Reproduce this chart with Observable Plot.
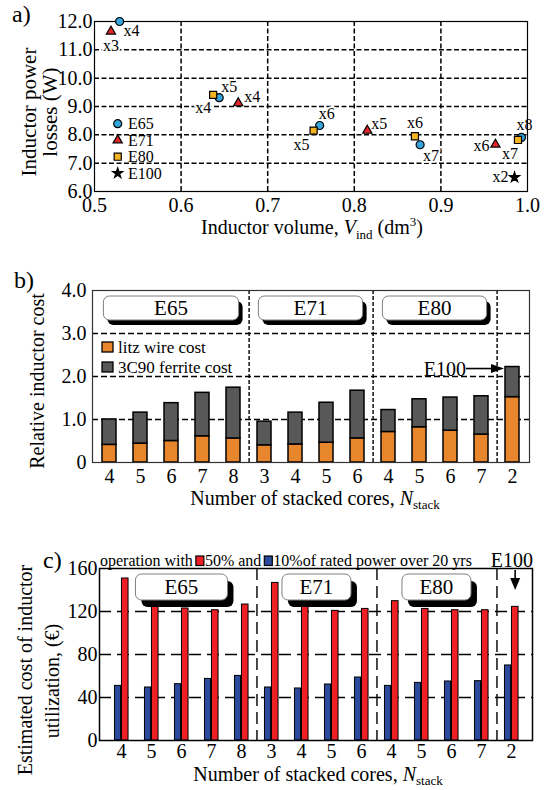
<!DOCTYPE html>
<html>
<head>
<meta charset="utf-8">
<script src="https://cdn.jsdelivr.net/npm/d3@7"></script>
<script src="https://cdn.jsdelivr.net/npm/@observablehq/plot@0.6"></script>
<style>
  html, body { margin: 0; padding: 0; background: #fff; overflow: hidden; }
  #page { position: relative; width: 549px; height: 790px; overflow: hidden; background: #fff; }
  .panel { position: absolute; left: 0; }
  .panel svg { display: block; }
  .panel svg text { font-family: "Liberation Serif", "Times New Roman", Times, serif !important; }
</style>
</head>
<body>
<div id="page"></div>
<script>
const FONT = '"Liberation Serif", "Times New Roman", Times, serif';

// ---------------- Panel a data ----------------
const coreSeries = ["E65", "E71", "E80", "E100"];
const seriesColors = ["#36A5DD", "#E4262B", "#F3B322", "#000000"];
const seriesSymbols = ["circle", "triangle", "square", "star"];
const seriesRadius = [4.0, 3.4, 4.0, 3.2];
const e65Volume = [0.529, 0.644, 0.760, 0.876, 0.993];
const e65Loss   = [12.0, 9.31, 8.33, 7.65, 7.91];
const e65Stack  = [4, 5, 6, 7, 8];
const e71Volume = [0.519, 0.666, 0.815, 0.963];
const e71Loss   = [11.65, 9.12, 8.15, 7.66];
const e71Stack  = [3, 4, 5, 6];
const e80Volume = [0.637, 0.753, 0.870, 0.989];
const e80Loss   = [9.41, 8.15, 7.95, 7.82];
const e80Stack  = [4, 5, 6, 7];
const e100Volume = [0.985];
const e100Loss   = [6.50];
const e100Stack  = [2];
const volumeTicks = [0.5, 0.6, 0.7, 0.8, 0.9, 1.0];
const lossTicks = [6, 7, 8, 9, 10, 11, 12];

// label placement style for panel a: [dx, dy, anchor]
const labelStyleA = {
  "E65-4": [4, 9, "start"], "E65-5": [2, -11, "start"], "E65-6": [7, -12, "middle"],
  "E65-7": [3, 11, "start"], "E65-8": [3, -13, "middle"],
  "E71-3": [0, 14, "middle"], "E71-4": [6, -6, "start"], "E71-5": [4, -7, "start"], "E71-6": [-6, 1, "end"],
  "E80-4": [-2, 13, "end"], "E80-5": [-4, 14, "end"], "E80-6": [0, -13, "middle"], "E80-7": [0, 14, "end"],
  "E100-2": [-6, 0, "end"]
};

// ---------------- Panel b / c data ----------------
const stackLabels = ["4","5","6","7","8","3","4","5","6","4","5","6","7","2"];
const coreOfBar  = ["E65","E65","E65","E65","E65","E71","E71","E71","E71","E80","E80","E80","E80","E100"];
const litzCost    = [0.41, 0.44, 0.50, 0.61, 0.56, 0.40, 0.42, 0.46, 0.56, 0.71, 0.82, 0.74, 0.65, 1.52];
const ferriteCost = [0.59, 0.72, 0.88, 1.01, 1.18, 0.55, 0.74, 0.93, 1.11, 0.51, 0.65, 0.77, 0.89, 0.70];
const costComponents = ["litz wire cost", "3C90 ferrite cost"];
const componentColors = ["#E8862E", "#585858"];
const relCostTicks = [0, 1, 2, 3, 4];

const cost50 = [150.7, 127.0, 122.8, 121.2, 126.5, 146.6, 124.9, 120.6, 122.4, 129.6, 122.4, 121.2, 121.2, 124.3];
const cost10 = [50.8, 49.3, 52.4, 57.3, 60.1, 49.3, 48.4, 52.1, 58.6, 50.8, 53.6, 54.9, 55.2, 69.8];
const operationLevels = ["50%", "10%"];
const operationColors = ["#EE2026", "#2B4A9C"];
const utilTicks = [0, 40, 80, 120, 160];
const boxedGroups = ["E65", "E71", "E80"];
const boxWidthC = [92, 69, 69];

// ---------------- helpers ----------------
const page = document.getElementById("page");
function mount(svg, top) {
  const div = document.createElement("div");
  div.className = "panel";
  div.style.top = top + "px";
  div.appendChild(svg);
  page.appendChild(div);
  const s = d3.select(svg);
  s.style("font-family", FONT);
  s.selectAll("text").style("font-family", FONT);
  return s;
}
function txt(g, x, y, s, o = {}) {
  const t = g.append("text").attr("x", x).attr("y", y)
    .style("font-family", FONT).attr("font-size", o.size || 20)
    .attr("fill", "black").attr("text-anchor", o.anchor || "start")
    .attr("dy", o.dy == null ? "0.35em" : o.dy);
  if (o.rotate) t.attr("transform", `rotate(-90 ${x} ${y})`);
  if (s != null) t.text(s);
  return t;
}
function arrowHead(g, x, y, dir, len, half) {
  let pts;
  if (dir === "right") pts = [[x, y], [x - len, y - half], [x - len, y + half]];
  else pts = [[x, y], [x - half, y - len], [x + half, y - len]];
  g.append("path").attr("d", "M" + pts.map(p => p.join(",")).join("L") + "Z").attr("fill", "black");
}
function roundedBox(g, x, y, w, h, sx, sy) {
  g.append("rect").attr("x", x + sx).attr("y", y + sy).attr("width", w).attr("height", h)
    .attr("rx", 6).attr("fill", "black");
  g.append("rect").attr("x", x).attr("y", y).attr("width", w).attr("height", h)
    .attr("rx", 6).attr("fill", "white").attr("stroke", "#808080").attr("stroke-width", 1);
}
const symbolOf = {circle: d3.symbolCircle, triangle: d3.symbolTriangle, square: d3.symbolSquare, star: d3.symbolStar};

// ================= Panel a =================
const aPoints = [];
[[e65Volume, e65Loss, e65Stack, "E65"], [e71Volume, e71Loss, e71Stack, "E71"],
 [e80Volume, e80Loss, e80Stack, "E80"], [e100Volume, e100Loss, e100Stack, "E100"]]
  .forEach(([v, l, s, c]) => v.forEach((vi, i) => aPoints.push({core: c, volume: vi, loss: l[i], stack: s[i]})));

const aLabelMarks = aPoints.map(p => {
  const [dx, dy, anchor] = labelStyleA[p.core + "-" + p.stack];
  return Plot.text([p], {x: "volume", y: "loss", text: d => "x" + d.stack, dx, dy, textAnchor: anchor,
    fontSize: 16, fill: "black", stroke: "white", strokeWidth: 3.5, paintOrder: "stroke"});
});
const aDotMarks = coreSeries.map((c, i) =>
  Plot.dot(aPoints.filter(p => p.core === c), {x: "volume", y: "loss", symbol: "core", fill: "core",
    stroke: "black", strokeWidth: 1.2, r: seriesRadius[i]}));

const plotA = Plot.plot({
  width: 549, height: 250,
  marginTop: 21, marginBottom: 59, marginLeft: 94, marginRight: 22,
  style: {fontFamily: FONT, fontSize: "20px", color: "black", background: "transparent", overflow: "visible"},
  x: {domain: [0.5, 1.0], ticks: volumeTicks, tickFormat: d3.format(".1f"), tickSize: 0, tickPadding: 6, label: null},
  y: {domain: [6, 12], ticks: lossTicks, tickFormat: d3.format(".1f"), tickSize: 0, tickPadding: 2, label: null},
  color: {domain: coreSeries, range: seriesColors},
  symbol: {domain: coreSeries, range: seriesSymbols},
  marks: [
    Plot.ruleX(volumeTicks.slice(1, -1), {stroke: "black", strokeWidth: 1.5, strokeDasharray: "5,2.5"}),
    Plot.ruleY(lossTicks.slice(1, -1), {stroke: "black", strokeWidth: 1.5, strokeDasharray: "5,2.5"}),
    ...aLabelMarks,
    Plot.frame({stroke: "black", strokeWidth: 1.2}),
    ...aDotMarks
  ]
});
const sa = mount(plotA, 0);
// legend a
coreSeries.forEach((c, i) => {
  const y = 123.7 + i * 16.5;
  const r = seriesRadius[i];
  sa.append("path").attr("d", d3.symbol(symbolOf[seriesSymbols[i]], Math.PI * r * r)()).attr("transform", `translate(117.7,${y})`)
    .attr("fill", seriesColors[i]).attr("stroke", "black").attr("stroke-width", 1.2);
  txt(sa, 128, y, c, {size: 16});
});
txt(sa, 12, 22, "a)", {size: 24, dy: 0});
txt(sa, 29, 112, "Inductor power", {size: 21, anchor: "middle", rotate: true});
txt(sa, 50, 112, "losses (W)", {size: 21, anchor: "middle", rotate: true});
{
  const t = txt(sa, 312, 227, null, {size: 20, anchor: "middle"});
  t.append("tspan").text("Inductor volume, ");
  t.append("tspan").attr("font-style", "italic").text("V");
  t.append("tspan").attr("font-size", 13).attr("dy", 5).text("ind");
  t.append("tspan").attr("dy", -5).text(" (dm");
  t.append("tspan").attr("font-size", 13).attr("dy", -8).text("3");
  t.append("tspan").attr("dy", 8).text(")");
}

// ================= Panel b =================
const keys = stackLabels.map((s, i) => coreOfBar[i] + "-" + s);
const bData = keys.flatMap((k, i) => [
  {key: k, component: costComponents[0], value: litzCost[i]},
  {key: k, component: costComponents[1], value: ferriteCost[i]}
]);
const groupEnds = boxedGroups.map(g => keys[coreOfBar.lastIndexOf(g)]);
const mB = {top: 40, bottom: 58, left: 92, right: 20};
const stepB = (549 - mB.left - mB.right) / keys.length;
const plotB = Plot.plot({
  width: 549, height: 270,
  marginTop: mB.top, marginBottom: mB.bottom, marginLeft: mB.left, marginRight: mB.right,
  style: {fontFamily: FONT, fontSize: "20px", color: "black", background: "transparent", overflow: "visible"},
  x: {domain: keys, paddingInner: 0.55, paddingOuter: 0.275, tickSize: 0, tickPadding: 6,
      tickFormat: d => d.split("-")[1], label: null},
  y: {domain: [0, 4], ticks: relCostTicks, tickFormat: d => d === 0 ? "0" : d.toFixed(1), tickSize: 0, tickPadding: 6, label: null},
  color: {domain: costComponents, range: componentColors},
  marks: [
    Plot.ruleY(relCostTicks.slice(1, -1), {stroke: "black", strokeWidth: 1.4, strokeDasharray: "6,3"}),
    Plot.ruleX(groupEnds, {x: d => d, dx: stepB / 2, stroke: "black", strokeWidth: 1.4, strokeDasharray: "4,2"}),
    Plot.barY(bData, {x: "key", y: "value", fill: "component", stroke: "black", strokeWidth: 1.5}),
    Plot.frame({stroke: "#333", strokeWidth: 1.2})
  ]
});
const sb = mount(plotB, 250);
{
  const sx = plotB.scale("x"), sy = plotB.scale("y");
  const bw = sx.bandwidth, gap = (stepB - bw) / 2;
  boxedGroups.forEach(g => {
    const first = keys[coreOfBar.indexOf(g)], last = keys[coreOfBar.lastIndexOf(g)];
    const x0 = sx.apply(first) - gap + 10, x1 = sx.apply(last) + bw + gap - 10;
    roundedBox(sb, x0, mB.top + 6, x1 - x0, 24, 4, 5);
    txt(sb, (x0 + x1) / 2, mB.top + 18, g, {size: 21, anchor: "middle"});
  });
  // E100 arrow
  const iE = coreOfBar.indexOf("E100");
  const bx = sx.apply(keys[iE]) - 1, by = sy.apply(litzCost[iE] + ferriteCost[iE]) + 2;
  sb.append("line").attr("x1", bx - 38).attr("x2", bx - 10).attr("y1", by).attr("y2", by).attr("stroke", "black").attr("stroke-width", 1.6);
  arrowHead(sb, bx, by, "right", 13, 4.5);
  txt(sb, bx - 38, by, "E100", {size: 20, anchor: "end"});
  // legend b
  costComponents.forEach((c, i) => {
    sb.append("rect").attr("x", 102).attr("y", 92 + i * 20).attr("width", 11).attr("height", 10)
      .attr("fill", componentColors[i]).attr("stroke", "black").attr("stroke-width", 1.3);
    txt(sb, 118, 97 + i * 20, c, {size: 17});
  });
}
txt(sb, 14, 38, "b)", {size: 24, dy: 0});
txt(sb, 37, 131, "Relative inductor cost", {size: 20, anchor: "middle", rotate: true});
{
  const t = txt(sb, 315, 248, null, {size: 20, anchor: "middle"});
  t.append("tspan").text("Number of stacked cores, ");
  t.append("tspan").attr("font-style", "italic").text("N");
  t.append("tspan").attr("font-size", 13).attr("dy", 4).text("stack");
}

// ================= Panel c =================
const mC = {top: 48, bottom: 50, left: 99, right: 17};
const stepC = (549 - mC.left - mC.right) / keys.length;
const c50 = keys.map((k, i) => ({key: k, value: cost50[i]}));
const c10 = keys.map((k, i) => ({key: k, value: cost10[i]}));
const halfC = stepC / 2;
const plotC = Plot.plot({
  width: 549, height: 270,
  marginTop: mC.top, marginBottom: mC.bottom, marginLeft: mC.left, marginRight: mC.right,
  style: {fontFamily: FONT, fontSize: "20px", color: "black", background: "transparent", overflow: "visible"},
  x: {domain: keys, padding: 0, tickSize: 0, tickPadding: 3, tickFormat: d => d.split("-")[1], label: null},
  y: {domain: [0, 160], ticks: utilTicks, tickFormat: d3.format("d"), tickSize: 0, tickPadding: 2, label: null},
  marks: [
    Plot.ruleY(utilTicks.slice(1, -1), {stroke: "black", strokeWidth: 1.5, strokeDasharray: "12,6"}),
    Plot.ruleX(groupEnds, {x: d => d, dx: halfC, stroke: "black", strokeWidth: 1.4, strokeDasharray: "12,6"}),
    Plot.barY(c10, {x: "key", y: "value", fill: operationColors[1], stroke: "black", strokeWidth: 1,
      insetLeft: halfC - 7, insetRight: halfC}),
    Plot.barY(c50, {x: "key", y: "value", fill: operationColors[0], stroke: "black", strokeWidth: 1,
      insetLeft: halfC, insetRight: halfC - 7.5}),
    Plot.frame({stroke: "black", strokeWidth: 1.5})
  ]
});
const sc = mount(plotC, 520);
{
  const sx = plotC.scale("x");
  boxedGroups.forEach((g, gi) => {
    const first = keys[coreOfBar.indexOf(g)], last = keys[coreOfBar.lastIndexOf(g)];
    const cx = (sx.apply(first) + sx.apply(last) + stepC) / 2;
    const w = boxWidthC[gi];
    roundedBox(sc, cx - w / 2, mC.top + 6, w, 26, 6, 7);
    txt(sc, cx, mC.top + 19, g, {size: 21, anchor: "middle"});
  });
  // legend c
  let x = 100;
  const base = 46;
  const parts = [
    {t: "operation with"}, {sq: 0}, {t: "50% and"}, {sq: 1}, {t: "10%of rated power over 20 yrs"}
  ];
  parts.forEach(p => {
    if (p.t) {
      const t = txt(sc, x, base, p.t, {size: 16, dy: 0});
      x += t.node().getComputedTextLength() + 3;
    } else {
      sc.append("rect").attr("x", x).attr("y", base - 10).attr("width", 8).attr("height", 9.5)
        .attr("fill", operationColors[p.sq]).attr("stroke", "black").attr("stroke-width", 1.2);
      x += 9;
    }
  });
  // E100 in c
  const iE = coreOfBar.indexOf("E100");
  const ax = sx.apply(keys[iE]) + halfC + 3.7;
  sc.append("line").attr("x1", ax).attr("x2", ax).attr("y1", mC.top + 2).attr("y2", mC.top + 14).attr("stroke", "black").attr("stroke-width", 1.6);
  arrowHead(sc, ax, mC.top + 22, "down", 12, 5);
  txt(sc, 549 - mC.right + 1, 40, "E100", {size: 20, anchor: "end"});
}
txt(sc, 43, 48, "c)", {size: 24, dy: 0});
txt(sc, 25, 150, "Estimated cost of inductor", {size: 20, anchor: "middle", rotate: true});
txt(sc, 52, 161, "utilization, (€)", {size: 20, anchor: "middle", rotate: true});
{
  const t = txt(sc, 318, 254, null, {size: 20, anchor: "middle"});
  t.append("tspan").text("Number of stacked cores, ");
  t.append("tspan").attr("font-style", "italic").text("N");
  t.append("tspan").attr("font-size", 13).attr("dy", 4).text("stack");
}
</script>
</body>
</html>
